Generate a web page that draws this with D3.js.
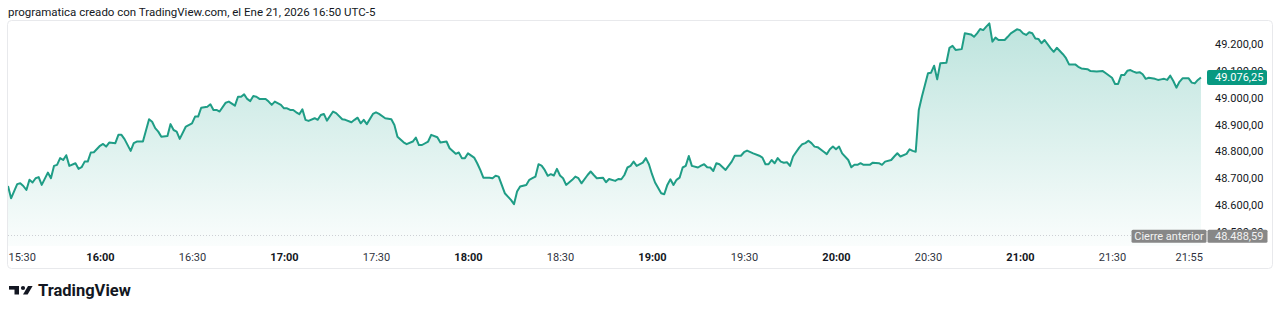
<!DOCTYPE html>
<html>
<head>
<meta charset="utf-8">
<script src="https://cdn.jsdelivr.net/npm/d3@7"></script>
<style>
  body { margin: 0; background: #fff; }
  svg { display: block; font-family: Roboto, "Noto Sans", sans-serif; }
</style>
</head>
<body>
<svg id="chart" width="1280" height="315"></svg>
<script>
// values (1-minute closes, some minutes skipped)
const times = [
  "15:30","15:31","15:33","15:34","15:35","15:36","15:37","15:38","15:39","15:40","15:41","15:43","15:44","15:45","15:46","15:47","15:48","15:49","15:50","15:52","15:53","15:54","15:55","15:56","15:57","15:58",
  "16:00","16:01","16:02","16:03","16:05","16:06","16:07","16:08","16:10","16:11","16:12","16:14","16:16","16:17","16:18","16:19","16:20","16:22","16:23","16:24","16:25","16:26","16:28",
  "16:30","16:31","16:32","16:33","16:35","16:36","16:37","16:38","16:39","16:41","16:42","16:44","16:45","16:46","16:47","16:48","16:49","16:50","16:51","16:52","16:54","16:55","16:56","16:57","16:59",
  "17:00","17:01","17:02","17:03","17:04","17:05","17:06","17:07","17:08","17:10","17:11","17:12","17:13","17:14","17:16","17:17","17:19","17:20","17:22","17:23","17:24","17:25","17:26","17:27","17:29",
  "17:30","17:31","17:33","17:35","17:36","17:37","17:39","17:40","17:42","17:43","17:44","17:45","17:47","17:48","17:50","17:51","17:53","17:54","17:56","17:57","17:58","17:59",
  "18:00","18:02","18:03","18:04","18:05","18:07","18:08","18:09","18:10","18:12","18:14","18:15","18:16","18:17","18:19","18:20","18:21","18:22","18:23","18:24","18:25","18:26","18:27","18:28","18:29",
  "18:30","18:31","18:32","18:34","18:35","18:36","18:37","18:39","18:40","18:41","18:42","18:44","18:45","18:46","18:48","18:49","18:50","18:51","18:52","18:53","18:54","18:55","18:57","18:58","18:59",
  "19:00","19:01","19:03","19:04","19:05","19:06","19:07","19:08","19:09","19:10","19:11","19:12","19:13","19:15","19:16","19:17","19:18","19:19","19:20","19:21","19:22","19:24","19:26","19:27","19:29",
  "19:30","19:31","19:33","19:35","19:36","19:37","19:38","19:39","19:40","19:41","19:42","19:43","19:44","19:45","19:46","19:48","19:49","19:50","19:51","19:52","19:53","19:54","19:56","19:57","19:58","19:59",
  "20:00","20:01","20:02","20:04","20:05","20:06","20:07","20:08","20:09","20:11","20:12","20:14","20:15","20:16","20:18","20:19","20:20","20:21","20:23","20:24","20:25","20:26","20:27","20:28","20:29",
  "20:30","20:31","20:32","20:33","20:34","20:36","20:37","20:38","20:39","20:41","20:42","20:44","20:45","20:46","20:47","20:48","20:49","20:50","20:51","20:52","20:53","20:55","20:56","20:57","20:59",
  "21:00","21:01","21:02","21:03","21:04","21:05","21:06","21:07","21:08","21:10","21:11","21:12","21:14","21:15","21:16","21:18","21:19","21:20","21:22","21:23","21:25","21:27","21:28",
  "21:30","21:31","21:32","21:33","21:34","21:35","21:36","21:37","21:38","21:39","21:40","21:41","21:42","21:44","21:45","21:46","21:47","21:48","21:49","21:50","21:51","21:52","21:53","21:55","21:56","21:57","21:58","21:59"
];
const prices = [
  48671,48625,48678,48681,48671,48656,48694,48684,48700,48704,48675,48721,48700,48746,48750,48775,48768,48786,48746,48756,48735,48741,48762,48762,48796,48797,
  48821,48828,48818,48833,48831,48862,48862,48846,48802,48831,48837,48837,48920,48911,48887,48874,48855,48858,48902,48880,48874,48847,48893,
  48905,48930,48930,48963,48967,48976,48955,48955,48949,48982,48986,48971,49004,49004,49013,48996,48988,49007,49004,48996,48996,48986,48974,48986,48974,
  48961,48961,48955,48955,48946,48939,48957,48918,48914,48924,48918,48936,48940,48915,48949,48943,48920,48918,48909,48918,48926,48905,48918,48902,48940,
  48946,48940,48924,48920,48899,48855,48834,48827,48837,48852,48824,48824,48837,48862,48853,48833,48837,48812,48791,48796,48775,48775,
  48793,48777,48756,48731,48702,48702,48700,48709,48706,48644,48619,48603,48650,48669,48675,48694,48700,48706,48752,48747,48731,48709,48715,48710,48735,
  48710,48700,48675,48694,48706,48700,48681,48712,48725,48712,48700,48702,48685,48697,48690,48697,48696,48712,48740,48746,48762,48746,48758,48775,48752,
  48715,48684,48644,48640,48675,48696,48675,48694,48702,48740,48746,48783,48746,48740,48747,48752,48741,48740,48727,48756,48752,48731,48762,48784,48784,
  48797,48803,48793,48784,48777,48752,48752,48768,48756,48775,48762,48758,48760,48746,48781,48814,48827,48831,48840,48831,48818,48816,48799,48790,48808,48818,
  48808,48818,48793,48768,48741,48750,48750,48756,48750,48750,48758,48756,48750,48762,48768,48781,48793,48781,48791,48808,48802,48799,48955,49004,49048,
  49092,49094,49120,49069,49129,49131,49187,49194,49179,49182,49241,49237,49228,49241,49257,49253,49266,49278,49210,49225,49216,49216,49228,49241,49256,
  49253,49241,49235,49245,49241,49222,49220,49204,49216,49185,49172,49187,49163,49148,49125,49125,49116,49110,49107,49100,49098,49100,49092,
  49075,49052,49052,49085,49085,49101,49104,49098,49094,49096,49088,49071,49075,49071,49067,49069,49071,49067,49083,49063,49038,49060,49073,49073,49057,49054,49067,49076.25
];

const timeTicks = ["15:30","16:00","16:30","17:00","17:30","18:00","18:30","19:00","19:30","20:00","20:30","21:00","21:30","21:55"];
const priceTicks = [48500, 48600, 48700, 48800, 48900, 49000, 49100, 49200];
const session = ["15:30", "22:00"];
const lastPrice = 49076.25;
const prevClose = 48488.59;
const titleText = "programatica creado con TradingView.com, el Ene 21, 2026 16:50 UTC-5";

const paneLeft = 8, paneRight = 1204, paneTop = 21, paneBottom = 246;
const lineColor = "#1f9d86";
const tealBox = "#089981";

const parseTime = d3.timeParse("%H:%M");
const fmtPrice = d3.formatLocale({ decimal: ",", thousands: ".", grouping: [3], currency: ["", ""] }).format(",.2f");

const data = times.map((t, i) => ({ t: parseTime(t), v: prices[i] }));

const xScale = d3.scaleTime()
  .domain(session.map(parseTime))
  .range([paneLeft, paneRight]);

const yScale = d3.scaleLinear()
  .domain([48600, 49200])
  .range([205, 44.3]);

const svg = d3.select('#chart');

// title
svg.append('text')
  .attr('x', 8)
  .attr('y', 16)
  .attr('font-size', 11.5)
  .attr('fill', '#131722')
  .text(titleText);

// panel frame
svg.append('rect')
  .attr('x', 7.5).attr('y', 20.5)
  .attr('width', 1265).attr('height', 248)
  .attr('rx', 4)
  .attr('fill', 'none')
  .attr('stroke', '#e8e9ec');

const defs = svg.append('defs');
const grad = defs.append('linearGradient')
  .attr('id', 'areaFill')
  .attr('gradientUnits', 'userSpaceOnUse')
  .attr('x1', 0).attr('x2', 0)
  .attr('y1', paneTop).attr('y2', paneBottom);
grad.append('stop').attr('offset', 0).attr('stop-color', tealBox).attr('stop-opacity', 0.27);
grad.append('stop').attr('offset', 1).attr('stop-color', tealBox).attr('stop-opacity', 0.02);

defs.append('clipPath').attr('id', 'pane')
  .append('rect')
  .attr('x', paneLeft).attr('y', paneTop)
  .attr('width', paneRight - paneLeft).attr('height', paneBottom - paneTop);

const plot = svg.append('g').attr('clip-path', 'url(#pane)');

const area = d3.area()
  .x((d) => xScale(d.t))
  .y0(paneBottom)
  .y1((d) => yScale(d.v));

const line = d3.line()
  .x((d) => xScale(d.t))
  .y((d) => yScale(d.v));

plot.append('path')
  .datum(data)
  .attr('fill', 'url(#areaFill)')
  .attr('d', area);

// previous close dotted line
const yPrev = Math.round(yScale(prevClose)) + 0.5;
svg.append('line')
  .attr('x1', paneLeft).attr('x2', paneRight + 1)
  .attr('y1', yPrev).attr('y2', yPrev)
  .attr('stroke', '#cdd0d5')
  .attr('stroke-dasharray', '1,2');

plot.append('path')
  .datum(data)
  .attr('fill', 'none')
  .attr('stroke', lineColor)
  .attr('stroke-width', 2)
  .attr('stroke-linejoin', 'round')
  .attr('d', line);

// price scale (labels under the two boxes stay partly hidden, as on TradingView)
const yAxis = svg.append('g')
  .attr('transform', 'translate(1215, 0)')
  .call(d3.axisRight(yScale).tickValues(priceTicks).tickSize(0).tickPadding(0).tickFormat(fmtPrice));
yAxis.select('.domain').remove();
yAxis.selectAll('text')
  .attr('font-size', 11)
  .attr('font-family', 'Roboto, sans-serif')
  .attr('fill', '#131722');

// time scale
const xAxis = svg.append('g')
  .attr('transform', 'translate(0, 261)')
  .call(d3.axisBottom(xScale).tickValues(timeTicks.map(parseTime)).tickSize(0).tickFormat(d3.timeFormat('%H:%M')));
xAxis.select('.domain').remove();
xAxis.selectAll('text')
  .attr('y', 0)
  .attr('dy', null)
  .attr('font-size', 11)
  .attr('font-family', 'Roboto, sans-serif')
  .attr('fill', (d) => (d.getMinutes() === 0 ? '#131722' : '#2f3340'))
  .attr('font-weight', (d) => (d.getMinutes() === 0 ? 700 : 400))
  .attr('text-anchor', (d, i) => (i === 0 ? 'start' : 'middle'));

// last price label
const yLast = yScale(lastPrice);
svg.append('rect')
  .attr('x', 1207).attr('y', yLast - 7.5)
  .attr('width', 60).attr('height', 15)
  .attr('rx', 2)
  .attr('fill', tealBox);
svg.append('text')
  .attr('x', 1215).attr('y', yLast)
  .attr('dy', '0.35em')
  .attr('font-size', 11)
  .attr('fill', '#fff')
  .text(fmtPrice(lastPrice));

// previous close label
const yPrevBox = yScale(prevClose) + 1.3;
svg.append('rect')
  .attr('x', 1131.5).attr('y', yPrevBox - 6.5)
  .attr('width', 75).attr('height', 13)
  .attr('rx', 1.5)
  .attr('fill', '#878787');
svg.append('text')
  .attr('x', 1169).attr('y', yPrevBox)
  .attr('dy', '0.35em')
  .attr('text-anchor', 'middle')
  .attr('font-size', 11)
  .attr('fill', '#f2f2f2')
  .text('Cierre anterior');
svg.append('rect')
  .attr('x', 1207.5).attr('y', yPrevBox - 6.5)
  .attr('width', 60).attr('height', 13)
  .attr('rx', 1.5)
  .attr('fill', '#878787');
svg.append('text')
  .attr('x', 1215).attr('y', yPrevBox)
  .attr('dy', '0.35em')
  .attr('font-size', 11)
  .attr('fill', '#f2f2f2')
  .text(fmtPrice(prevClose));

// TradingView logo
const logo = svg.append('g').attr('fill', '#131722');
logo.append('rect').attr('x', 9).attr('y', 286).attr('width', 10).attr('height', 3.6);
logo.append('rect').attr('x', 14.5).attr('y', 286).attr('width', 4.5).attr('height', 8.5);
logo.append('circle').attr('cx', 23).attr('cy', 288).attr('r', 2.1);
logo.append('path').attr('d', 'M28,286 L32.6,286 L27.6,294.5 L23,294.5 Z');
logo.append('text')
  .attr('x', 38).attr('y', 296)
  .attr('font-size', 16.5)
  .attr('font-weight', 700)
  .text('TradingView');
</script>
</body>
</html>
